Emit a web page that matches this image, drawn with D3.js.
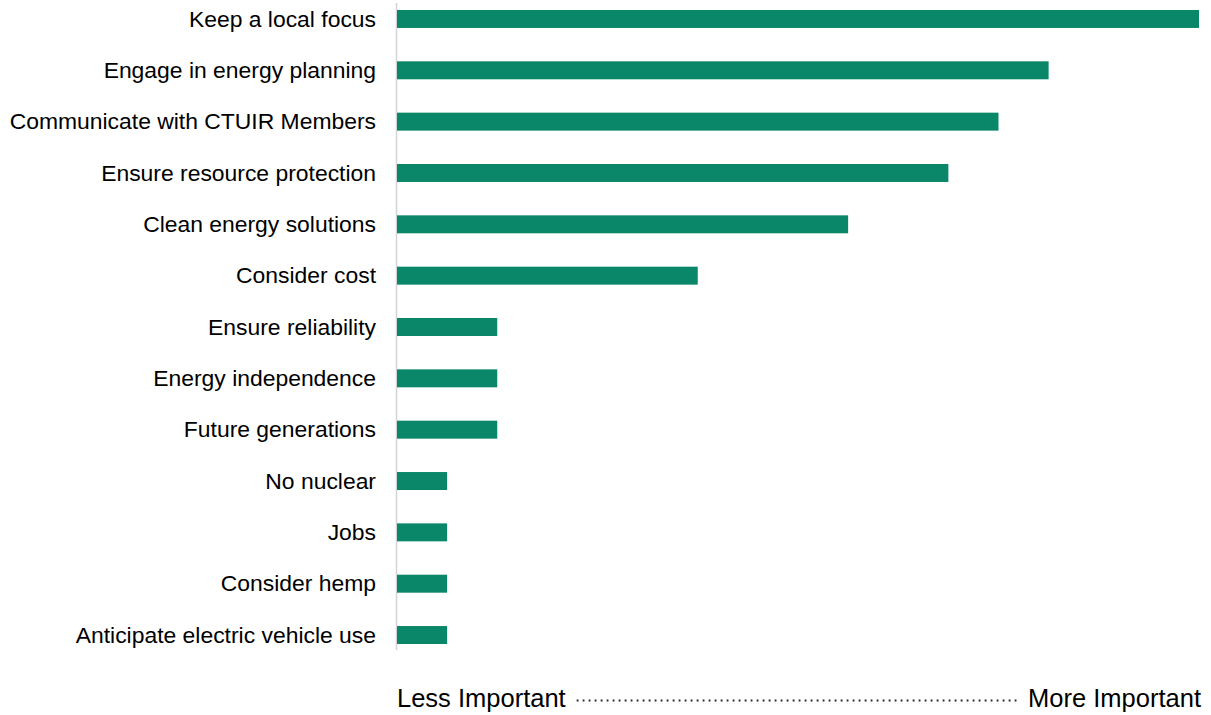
<!DOCTYPE html>
<html>
<head>
<meta charset="utf-8">
<script src="https://cdn.jsdelivr.net/npm/d3@7"></script>
<style>
  body { margin: 0; background: #fff; }
  svg { display: block; }
</style>
</head>
<body>
<div id="chart"></div>
<script>
// priorities, top to bottom
const categories = [
  'Keep a local focus',
  'Engage in energy planning',
  'Communicate with CTUIR Members',
  'Ensure resource protection',
  'Clean energy solutions',
  'Consider cost',
  'Ensure reliability',
  'Energy independence',
  'Future generations',
  'No nuclear',
  'Jobs',
  'Consider hemp',
  'Anticipate electric vehicle use'
]
const values = [16, 13, 12, 11, 9, 6, 2, 2, 2, 1, 1, 1, 1]
const axisLabels = ['Less Important', 'More Important']

const width = 1211, height = 715
const barColor = '#0a8669'
const font = '"Liberation Sans", Arial, sans-serif'

const svg = d3.select('#chart').append('svg')
  .attr('width', width)
  .attr('height', height)

const x = d3.scaleLinear()
  .domain([0, d3.max(values)])
  .range([397, 1199])

const y = d3.scaleBand()
  .domain(categories)
  .range([-6.7, 660.7])
  .paddingInner(0.65)
  .paddingOuter(0.325)

// left axis line
svg.append('line')
  .attr('x1', 396.5).attr('x2', 396.5)
  .attr('y1', 3).attr('y2', 650)
  .attr('stroke', '#d4d4d4')
  .attr('stroke-width', 1.5)

// bars
svg.append('g')
  .selectAll('rect')
  .data(values)
  .join('rect')
  .attr('x', x(0))
  .attr('y', (d, i) => y(categories[i]))
  .attr('width', d => x(d) - x(0))
  .attr('height', y.bandwidth())
  .attr('fill', barColor)

// category labels
svg.append('g')
  .selectAll('text')
  .data(categories)
  .join('text')
  .attr('x', 376)
  .attr('y', d => y(d) + y.bandwidth() / 2)
  .attr('dy', '0.33em')
  .attr('text-anchor', 'end')
  .style('font-family', font)
  .style('font-size', '22.9px')
  .attr('fill', '#000')
  .text(d => d)

// importance scale under the chart
const lowLabel = svg.append('text')
  .attr('x', 397)
  .attr('y', 707)
  .style('font-family', font)
  .style('font-size', '25.5px')
  .attr('fill', '#000')
  .text(axisLabels[0])

const highLabel = svg.append('text')
  .attr('x', 1201)
  .attr('y', 707)
  .attr('text-anchor', 'end')
  .style('font-family', font)
  .style('font-size', '25.5px')
  .attr('fill', '#000')
  .text(axisLabels[1])

const lowEnd = lowLabel.node().getBBox()
const highEnd = highLabel.node().getBBox()

svg.append('line')
  .attr('x1', lowEnd.x + lowEnd.width + 11)
  .attr('x2', highEnd.x - 10)
  .attr('y1', 700.5).attr('y2', 700.5)
  .attr('stroke', '#222')
  .attr('stroke-width', 1.8)
  .attr('stroke-dasharray', '1.8,4.2')
</script>
</body>
</html>
